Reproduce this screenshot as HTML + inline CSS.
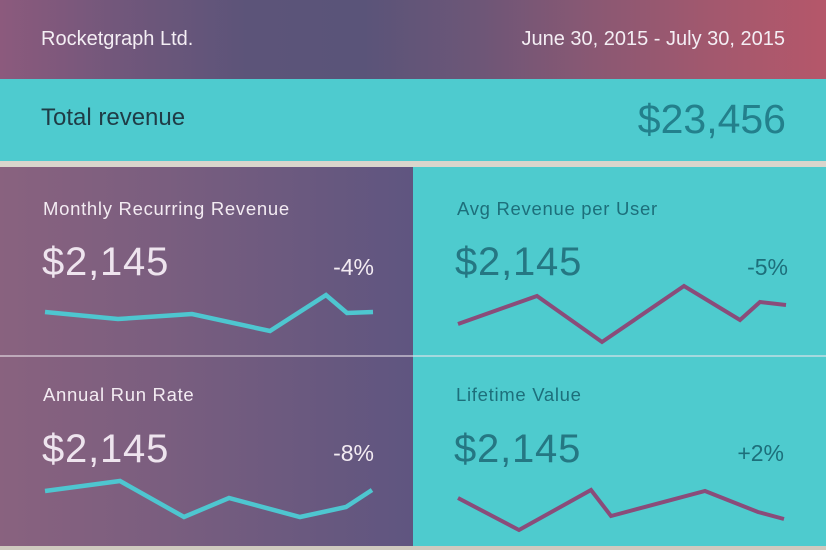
<!DOCTYPE html>
<html>
<head>
<meta charset="utf-8">
<style>
  html, body { margin:0; padding:0; }
  body { width:826px; height:550px; overflow:hidden; position:relative; background:#d6d1c7; font-family:"Liberation Sans", Arial, sans-serif; }
  .abs { position:absolute; }
  #header { left:0; top:0; width:826px; height:79px;
    background: linear-gradient(90deg, #8c5a7d 0%, #72577b 14%, #5c5479 30%, #5a5479 44%, #6d5677 58%, #8a5873 72%, #a2586e 86%, #b5576a 100%); }
  #band { left:0; top:79px; width:826px; height:82px; background:#4ecbcf; }
  #strip { left:0; top:161px; width:826px; height:6px; background:#d9d5cc; }
  #lp { left:0; top:167px; width:413px; height:379px;
    background: linear-gradient(90deg, #89627f 0%, #7a5e7f 40%, #67587f 80%, #5f5580 100%); }
  #rp { left:413px; top:167px; width:413px; height:379px; background:#4ecbce; }
  #div { left:0; top:355px; width:826px; height:2px; background:rgba(235,230,235,0.55); }
  #bstrip { left:0; top:546px; width:826px; height:4px; background:#cfcabf; }
  .t { position:absolute; white-space:nowrap; line-height:1; }
  .hdr { color:#f4eef4; font-size:20px; top:29px; }
  .title { font-size:18.5px; letter-spacing:0.7px; }
  .big { font-size:40px; letter-spacing:0.8px; }
  .pct { font-size:23px; }
  .w { color:#f3ebf2; }
  .d { color:#1d6f7b; }
  .big.w { color:#eee4ee; }
  .big.d { color:#257783; }
</style>
</head>
<body>
<div id="header" class="abs"></div>
<div id="band" class="abs"></div>
<div id="strip" class="abs"></div>
<div id="lp" class="abs"></div>
<div id="rp" class="abs"></div>
<div id="div" class="abs"></div>
<div id="bstrip" class="abs"></div>

<div class="t hdr" style="left:41px;">Rocketgraph Ltd.</div>
<div class="t hdr" style="right:41px;">June 30, 2015 - July 30, 2015</div>

<div class="t" style="left:41px; top:106px; font-size:24px; color:#1f3c46;">Total revenue</div>
<div class="t" style="right:40px; top:99px; font-size:41px; color:#23808c;">$23,456</div>

<!-- MRR -->
<div class="t title w" style="left:43px; top:200px;">Monthly Recurring Revenue</div>
<div class="t big w" style="left:42px; top:242px;">$2,145</div>
<div class="t pct w" style="right:452px; top:256px;">-4%</div>

<!-- ARPU -->
<div class="t title d" style="left:457px; top:200px;">Avg Revenue per User</div>
<div class="t big d" style="left:455px; top:242px;">$2,145</div>
<div class="t pct d" style="right:38px; top:256px;">-5%</div>

<!-- ARR -->
<div class="t title w" style="left:43px; top:386px;">Annual Run Rate</div>
<div class="t big w" style="left:42px; top:429px;">$2,145</div>
<div class="t pct w" style="right:452px; top:442px;">-8%</div>

<!-- LTV -->
<div class="t title d" style="left:456px; top:386px;">Lifetime Value</div>
<div class="t big d" style="left:454px; top:429px;">$2,145</div>
<div class="t pct d" style="right:42px; top:442px;">+2%</div>

<svg class="abs" style="left:0;top:0;" width="826" height="550" viewBox="0 0 826 550">
  <polyline points="45,312 118,319 192,314 270,331 326,295 347,313 373,312" fill="none" stroke="#4ec6d0" stroke-width="4.5" stroke-linejoin="miter"/>
  <polyline points="458,324 537,296 602,342 684,286 740,320 760,302 786,305" fill="none" stroke="#8a4c7a" stroke-width="4" stroke-linejoin="miter"/>
  <polyline points="45,491 120,481 184,517 229,498 300,517 346,507 372,490" fill="none" stroke="#4ec6d0" stroke-width="4.5" stroke-linejoin="miter"/>
  <polyline points="458,498 519,530 591,490 611,516 705,491 758,512 784,519" fill="none" stroke="#8a4c7a" stroke-width="4" stroke-linejoin="miter"/>
</svg>
</body>
</html>
